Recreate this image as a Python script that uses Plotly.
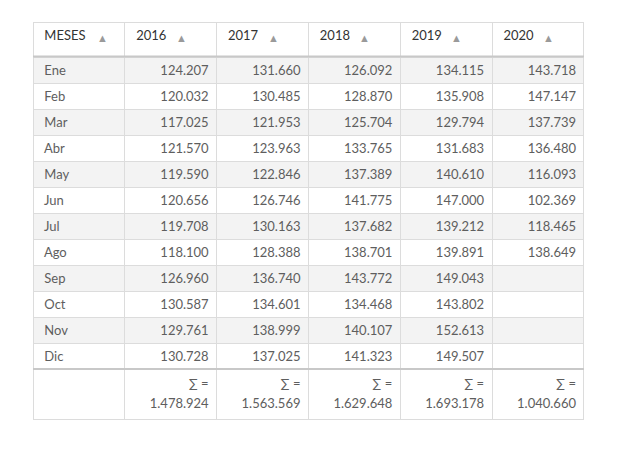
import plotly.graph_objects as go

meses = ["Ene", "Feb", "Mar", "Abr", "May", "Jun", "Jul", "Ago", "Sep", "Oct", "Nov", "Dic"]
years = ["2016", "2017", "2018", "2019", "2020"]
v2016 = [124207, 120032, 117025, 121570, 119590, 120656, 119708, 118100, 126960, 130587, 129761, 130728]
v2017 = [131660, 130485, 121953, 123963, 122846, 126746, 130163, 128388, 136740, 134601, 138999, 137025]
v2018 = [126092, 128870, 125704, 133765, 137389, 141775, 137682, 138701, 143772, 134468, 140107, 141323]
v2019 = [134115, 135908, 129794, 131683, 140610, 147000, 139212, 139891, 149043, 143802, 152613, 149507]
v2020 = [143718, 147147, 137739, 136480, 116093, 102369, 118465, 138649]
series = [v2016, v2017, v2018, v2019, v2020]


def fmt(v):
    return f"{v:,}".replace(",", ".")


FONT = "Lato, Open Sans, sans-serif"
OFF = 8                      # page body margin
FW, FH = 625 - OFF, 470 - OFF


def px(x):
    return (x - OFF) / FW


def py(y):
    return 1 - (y - OFF) / FH


x0, x1 = 33, 584
y0, y1 = 22, 421
head_h, row_h, foot_h = 35, 26, 52
colw = (x1 - x0) / 6

header = ["MESES"] + years

sp = '<span style="font-size:15px">\u00a0</span>'
blank2 = sp + "<br>" + sp
cols = [meses + [blank2]]
for s in series:
    cols.append([fmt(v) for v in s] + [""] * (12 - len(s)) + [blank2])

row_fill = ["#f3f3f3" if i % 2 == 0 else "#ffffff" for i in range(12)] + ["#ffffff"]

main = go.Table(
    domain=dict(x=[px(x0), px(x1)], y=[py(y1), py(y0)]),
    columnwidth=[1] * 6,
    header=dict(
        values=header,
        prefix="\u00a0",
        align="left",
        height=head_h,
        fill_color="#ffffff",
        line=dict(color="#dcdcdc", width=1),
        font=dict(family=FONT, size=13, color="#333333"),
    ),
    cells=dict(
        values=cols,
        prefix=["\u00a0", "", "", "", "", ""],
        align=["left"] + ["right"] * 5,
        height=row_h,
        fill_color=[row_fill] * 6,
        line=dict(color="#dcdcdc", width=1),
        font=dict(family=FONT, size=13, color="#5e5e5e"),
    ),
)

# footer sums: "∑ =" line and total line, each right aligned
ft_top = y1 - foot_h + 1.5
foot = go.Table(
    domain=dict(x=[px(x0), px(x1)], y=[py(y1), py(ft_top)]),
    columnwidth=[1] * 6,
    header=dict(
        values=[""] + ["∑ ="] * 5,
        align="right",
        height=20,
        fill_color="rgba(0,0,0,0)",
        line=dict(width=0, color="rgba(0,0,0,0)"),
        font=dict(family=FONT, size=13, color="#5e5e5e"),
    ),
    cells=dict(
        values=[[""]] + [[fmt(sum(s))] for s in series],
        align="right",
        height=19,
        fill_color="rgba(0,0,0,0)",
        line=dict(width=0, color="rgba(0,0,0,0)"),
        font=dict(family=FONT, size=13, color="#5e5e5e"),
    ),
)

fig = go.Figure([main, foot])

# sort arrows in header
arrow_off = [69, 57, 57, 56, 56, 56]
for i, off in enumerate(arrow_off):
    ax = x0 + colw * i + off
    fig.add_annotation(x=px(ax), y=py(37), xref="paper", yref="paper",
                       xanchor="center", yanchor="middle",
                       text="▲", showarrow=False,
                       font=dict(size=11, color="#9a9a9a", family=FONT))

# thicker separators under header and above footer
for yy in (56.5, y1 - foot_h):
    fig.add_shape(type="line", xref="paper", yref="paper",
                  x0=px(x0), x1=px(x1), y0=py(yy), y1=py(yy),
                  line=dict(color="#c8c8c8", width=2), layer="above")

fig.update_layout(
    width=FW, height=FH,
    margin=dict(l=0, r=0, t=0, b=0),
    paper_bgcolor="#ffffff",
    plot_bgcolor="#ffffff",
)

fig.write_html("out.html")
